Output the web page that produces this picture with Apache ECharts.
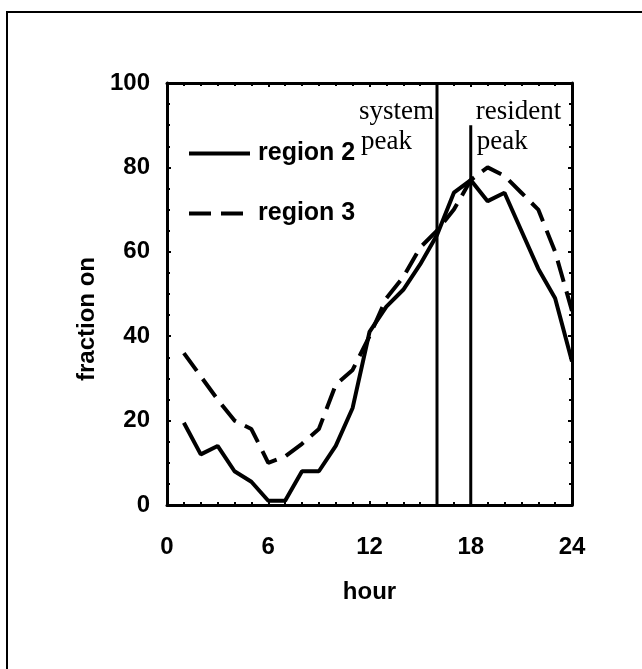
<!DOCTYPE html>
<html><head><meta charset="utf-8">
<script src="https://cdn.jsdelivr.net/npm/echarts@6/dist/echarts.min.js"></script>
<style>html,body{margin:0;padding:0;background:#fff}#c{width:642px;height:669px}</style>
</head><body><div id="c"></div>
<script>
const hours   = [1, 2, 3, 4, 5, 6, 7, 8, 9, 10, 11, 12, 13, 14, 15, 16, 17, 18, 19, 20, 21, 22, 23, 24];
const region2 = [19.5, 12, 14, 8, 5.5, 1, 1, 8, 8, 14, 23, 41, 47, 51, 57, 64, 74, 77, 72, 74, 65, 56, 49, 34];
const region3 = [36, 30.5, 25, 20, 18, 10, 11.5, 14.5, 18, 28.5, 32, 40, 49, 54, 61, 65, 70, 77, 80, 78, 74, 70, 60, 46];
const seriesNames = ['region 2', 'region 3'];
const peakHours = [16, 18];
const peakTops  = [100, 90];
const peakLabels = [['system', 'peak'], ['resident', 'peak']];
const xRange = [0, 24], xStep = 6;
const yRange = [0, 100], yStep = 20;
const xTitle = 'hour', yTitle = 'fraction on';

const SANS = '"Liberation Sans", Arial, sans-serif';
const SERIF = '"Liberation Serif", "Times New Roman", serif';
const chart = echarts.init(document.getElementById('c'), null, {renderer: 'canvas'});

function axisBase(extra) {
  return Object.assign({
    type: 'value',
    axisLine: {show: true, onZero: false, lineStyle: {color: '#000', width: 3}},
    axisTick: {show: true, inside: true, length: 4, lineStyle: {color: '#000', width: 2}},
    splitLine: {show: false}
  }, extra);
}
const labelStyle = {color: '#000', fontSize: 24, fontWeight: 'bold', fontFamily: SANS};

const series = [
  {name: seriesNames[0], type: 'line', symbol: 'none', data: hours.map((h, i) => [h, region2[i]]),
   lineStyle: {color: '#000', width: 4}, itemStyle: {color: '#000'}, z: 3},
  {name: seriesNames[1], type: 'line', symbol: 'none', data: hours.map((h, i) => [h, region3[i]]),
   lineStyle: {color: '#000', width: 4, type: [22, 10]}, itemStyle: {color: '#000'}, z: 3}
];
peakHours.forEach((h, i) => {
  series.push({name: 'peak' + i, type: 'line', symbol: 'none', data: [[h, yRange[0]], [h, peakTops[i]]],
    lineStyle: {color: '#000', width: 3}, z: 2, silent: true});
});

chart.setOption({
  animation: false,
  backgroundColor: '#fff',
  grid: {left: 167, top: 83, width: 405, height: 422, containLabel: false, outerBoundsMode: 'none'},
  legend: {
    data: seriesNames, orient: 'vertical', left: 187, top: 141, padding: 0,
    itemWidth: 61, itemHeight: 14, itemGap: 35,
    itemStyle: {opacity: 0, borderWidth: 0},
    lineStyle: {width: 4},
    textStyle: {color: '#000', fontSize: 25, fontWeight: 'bold', fontFamily: SANS, padding: [0, 0, 0, 3]}
  },
  xAxis: [
    axisBase({position: 'bottom', min: xRange[0], max: xRange[1], interval: xStep,
      minorTick: {show: true, splitNumber: 6, length: 3, lineStyle: {color: '#000', width: 2}},
      axisLabel: Object.assign({margin: 30}, labelStyle),
      name: xTitle, nameLocation: 'middle', nameGap: 75, nameTextStyle: labelStyle}),
    axisBase({position: 'top', min: xRange[0], max: xRange[1], interval: xStep,
      minorTick: {show: true, splitNumber: 6, length: 3, lineStyle: {color: '#000', width: 2}},
      axisLabel: {show: false}})
  ],
  yAxis: [
    axisBase({position: 'left', min: yRange[0], max: yRange[1], interval: yStep,
      minorTick: {show: true, splitNumber: 4, length: 3, lineStyle: {color: '#000', width: 2}},
      axisLabel: Object.assign({margin: 17}, labelStyle),
      name: yTitle, nameLocation: 'middle', nameGap: 30,
      nameTextStyle: Object.assign({padding: [0, 50, 0, 0]}, labelStyle)}),
    axisBase({position: 'right', min: yRange[0], max: yRange[1], interval: yStep,
      minorTick: {show: true, splitNumber: 4, length: 3, lineStyle: {color: '#000', width: 2}},
      axisLabel: {show: false}})
  ],
  series: series
});

// peak annotations anchored to data coordinates
const graphics = [{
  type: 'rect', shape: {x: 7, y: 12, width: 700, height: 700},
  style: {fill: 'none', stroke: '#000', lineWidth: 2}, silent: true
}];
const sysPt = chart.convertToPixel({xAxisIndex: 0, yAxisIndex: 0}, [peakHours[0], yRange[1]]);
const resPt = chart.convertToPixel({xAxisIndex: 0, yAxisIndex: 0}, [peakHours[1], yRange[1]]);
const serifFont = '27px ' + SERIF;
graphics.push({type: 'text', style: {text: peakLabels[0][0], x: sysPt[0] - 3, y: sysPt[1] + 15, font: serifFont, textAlign: 'right', textVerticalAlign: 'top', fill: '#000'}});
graphics.push({type: 'text', style: {text: peakLabels[0][1], x: sysPt[0] - 76, y: sysPt[1] + 45, font: serifFont, textAlign: 'left', textVerticalAlign: 'top', fill: '#000'}});
graphics.push({type: 'text', style: {text: peakLabels[1][0], x: resPt[0] + 5, y: resPt[1] + 15, font: serifFont, textAlign: 'left', textVerticalAlign: 'top', fill: '#000'}});
graphics.push({type: 'text', style: {text: peakLabels[1][1], x: resPt[0] + 6, y: resPt[1] + 45, font: serifFont, textAlign: 'left', textVerticalAlign: 'top', fill: '#000'}});
chart.setOption({graphic: graphics});
</script>
</body></html>
